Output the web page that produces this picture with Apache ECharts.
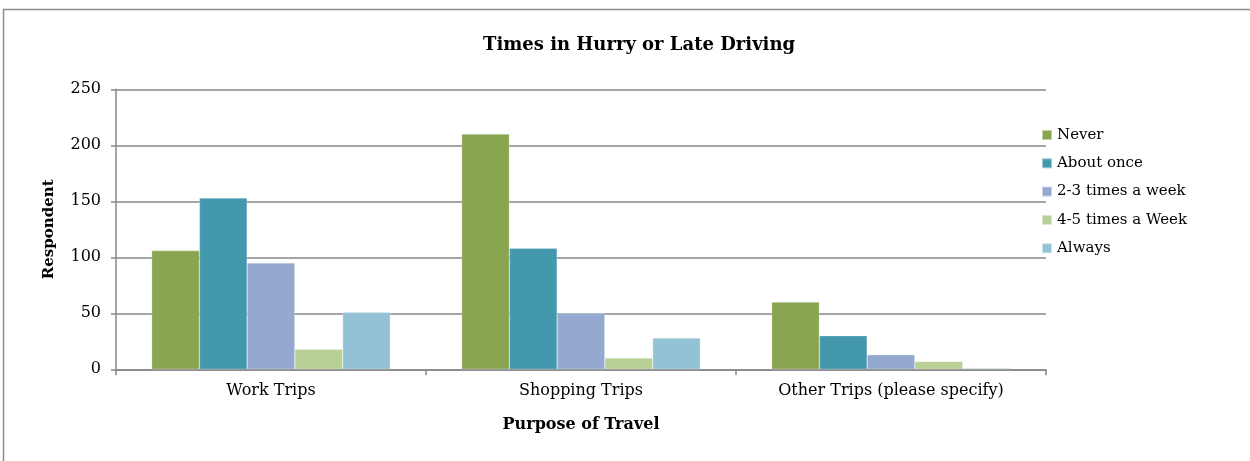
<!DOCTYPE html>
<html>
<head>
<meta charset="utf-8">
<script src="https://cdn.jsdelivr.net/npm/echarts@6/dist/echarts.min.js"></script>
<style>
  html, body { margin: 0; padding: 0; background: #fff; }
  #chart { width: 1250px; height: 461px; }
</style>
</head>
<body>
<div id="chart"></div>
<script>
// Trip purposes along the x axis
const categories = ['Work Trips', 'Shopping Trips', 'Other Trips (please specify)'];

// Respondent counts per frequency of being in a hurry / late
const never = [106, 210, 60];
const aboutOnce = [153, 108, 30];
const twoThreeWeek = [95, 50, 13];
const fourFiveWeek = [18, 10, 7];
const always = [51, 28, 1];

const seriesNames = ['Never', 'About once', '2-3 times a week', '4-5 times a Week', 'Always'];
const seriesValues = [never, aboutOnce, twoThreeWeek, fourFiveWeek, always];
const seriesColors = ['#8aa54f', '#4398ae', '#95a9d0', '#b8cf96', '#93c2d4'];

const FONT = 'DejaVu Serif';
const AXIS_GRAY = '#878787';

const chart = echarts.init(document.getElementById('chart'), null, { renderer: 'canvas' });

chart.setOption({
  backgroundColor: '#ffffff',
  animation: false,
  title: {
    text: 'Times in Hurry or Late Driving',
    left: 478,
    top: 31,
    textStyle: { fontFamily: FONT, fontWeight: 'bold', fontSize: 18, color: '#000' }
  },
  graphic: [{
    type: 'rect',
    shape: { x: 3.5, y: 9.5, width: 1300, height: 500 },
    style: { fill: 'none', stroke: '#8c8c8c', lineWidth: 1.5 },
    silent: true
  }],
  legend: {
    orient: 'vertical',
    left: 1036,
    top: 121,
    icon: 'rect',
    itemWidth: 10,
    itemHeight: 10,
    itemGap: 10.3,
    textStyle: { fontFamily: FONT, fontSize: 15, color: '#000', lineHeight: 18 },
    data: seriesNames
  },
  grid: { left: 116, right: 204, top: 89.3, bottom: 91.7, containLabel: false },
  xAxis: {
    type: 'category',
    data: categories,
    name: 'Purpose of Travel',
    nameLocation: 'middle',
    nameGap: 48,
    nameTextStyle: { fontFamily: FONT, fontWeight: 'bold', fontSize: 16, color: '#000' },
    axisLine: { lineStyle: { color: AXIS_GRAY, width: 1.5 } },
    axisTick: { show: true, length: 6, lineStyle: { color: AXIS_GRAY, width: 1.5 } },
    axisLabel: { fontFamily: FONT, fontSize: 16, color: '#000', margin: 14 }
  },
  yAxis: {
    type: 'value',
    min: 0,
    max: 250,
    interval: 50,
    name: 'Respondent',
    nameLocation: 'middle',
    nameGap: 59,
    nameTextStyle: { fontFamily: FONT, fontWeight: 'bold', fontSize: 15, color: '#000' },
    axisLine: { show: true, lineStyle: { color: AXIS_GRAY, width: 1.5 } },
    axisTick: { show: true, length: 5, lineStyle: { color: AXIS_GRAY, width: 1.5 } },
    axisLabel: { fontFamily: FONT, fontSize: 16, color: '#000', margin: 15 },
    splitLine: { show: true, lineStyle: { color: AXIS_GRAY, width: 1.5 } }
  },
  series: seriesNames.map((name, i) => ({
    name: name,
    type: 'bar',
    data: seriesValues[i],
    barGap: '0%',
    barCategoryGap: '23%',
    itemStyle: { color: seriesColors[i], borderColor: 'rgba(255,255,255,0.5)', borderWidth: 0.5 }
  }))
});
</script>
</body>
</html>
